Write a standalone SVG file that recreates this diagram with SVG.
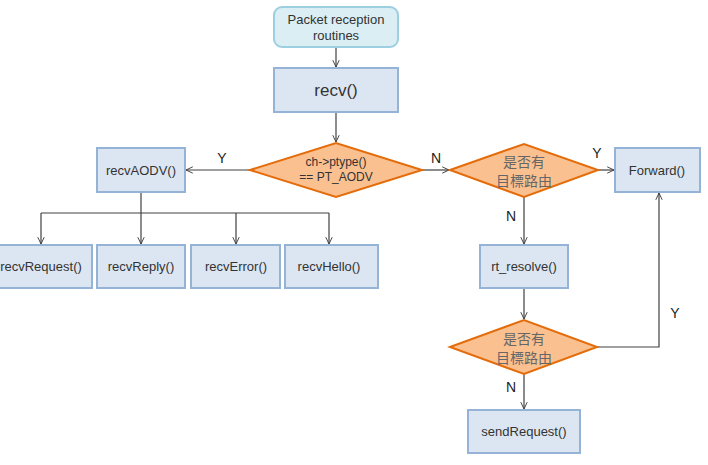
<svg xmlns="http://www.w3.org/2000/svg" width="708" height="465" viewBox="0 0 708 465">
<defs>
<marker id="arr" viewBox="0 0 10 10" refX="9.5" refY="5" markerWidth="8" markerHeight="8" markerUnits="userSpaceOnUse" orient="auto">
<path d="M1,1 L9.5,5 L1,9" fill="none" stroke="#404040" stroke-width="1.2"/>
</marker>
</defs>
<style>
.box{fill:#dce6f2;stroke:#95b3d7;stroke-width:2}
.start{fill:#daeef3;stroke:#9ccfe0;stroke-width:2}
.dia{fill:#fac090;stroke:#e46c0a;stroke-width:2}
.t{font-family:"Liberation Sans","Noto Sans CJK TC",sans-serif;font-size:13px;fill:#333;text-anchor:middle}
.cjk{font-family:"Noto Sans CJK TC",sans-serif;font-size:14px;fill:#666;text-anchor:middle}
.lbl{font-family:"Liberation Sans",sans-serif;font-size:14px;fill:#222;text-anchor:middle}
.c{fill:none;stroke:#404040;stroke-width:1.2}
</style>
<rect width="708" height="465" fill="#fff"/>
<g id="connectors">
<path class="c" d="M336,48 V67" marker-end="url(#arr)"/>
<path class="c" d="M336,112 V142" marker-end="url(#arr)"/>
<path class="c" d="M250,170 H186" marker-end="url(#arr)"/>
<path class="c" d="M141,192 V213"/>
<path class="c" d="M41,213 H329"/>
<path class="c" d="M41,213 V244" marker-end="url(#arr)"/>
<path class="c" d="M141,213 V244" marker-end="url(#arr)"/>
<path class="c" d="M236,213 V244" marker-end="url(#arr)"/>
<path class="c" d="M329,213 V244" marker-end="url(#arr)"/>
<path class="c" d="M422,170 H449" marker-end="url(#arr)"/>
<path class="c" d="M598,170 H614" marker-end="url(#arr)"/>
<path class="c" d="M524,197 V244" marker-end="url(#arr)"/>
<path class="c" d="M524,288 V319" marker-end="url(#arr)"/>
<path class="c" d="M597,347 H659 V193" marker-end="url(#arr)"/>
<path class="c" d="M524,374 V409" marker-end="url(#arr)"/>
<text class="lbl" x="222" y="163">Y</text>
<text class="lbl" x="436" y="163">N</text>
<text class="lbl" x="597" y="158">Y</text>
<text class="lbl" x="511" y="221">N</text>
<text class="lbl" x="675" y="318">Y</text>
<text class="lbl" x="511" y="392">N</text>
</g>
<g id="start"><rect class="start" x="274" y="7" width="124" height="40" rx="8"/><text class="t" x="336" y="24">Packet reception</text><text class="t" x="336" y="40">routines</text></g>
<g id="recv"><rect class="box" x="274" y="68" width="124" height="44"/><text class="t" x="336" y="96" style="font-size:17px">recv()</text></g>
<g id="d1"><polygon class="dia" points="250,170 336,143 422,170 336,197"/><text class="t" x="336" y="166" style="font-size:12px">ch-&gt;ptype()</text><text class="t" x="336" y="181" style="font-size:12px">== PT_AODV</text></g>
<g id="recvAODV"><rect class="box" x="97" y="148" width="88" height="44"/><text class="t" x="141" y="175">recvAODV()</text></g>
<g id="recvRequest"><rect class="box" x="-10" y="245" width="102" height="43"/><text class="t" x="41" y="271">recvRequest()</text></g>
<g id="recvReply"><rect class="box" x="97" y="245" width="88" height="43"/><text class="t" x="141" y="271">recvReply()</text></g>
<g id="recvError"><rect class="box" x="191" y="245" width="89" height="43"/><text class="t" x="236" y="271">recvError()</text></g>
<g id="recvHello"><rect class="box" x="285" y="245" width="93" height="43"/><text class="t" x="329" y="271">recvHello()</text></g>
<g id="d2"><polygon class="dia" points="450,170 524,144 598,170 524,197"/><text class="cjk" x="524" y="167">是否有</text><text class="cjk" x="524" y="186">目標路由</text></g>
<g id="forward"><rect class="box" x="615" y="148" width="85" height="44"/><text class="t" x="657" y="175">Forward()</text></g>
<g id="rt_resolve"><rect class="box" x="480" y="245" width="88" height="43"/><text class="t" x="524" y="271">rt_resolve()</text></g>
<g id="d3"><polygon class="dia" points="450,347 524,320 597,347 524,374"/><text class="cjk" x="524" y="344">是否有</text><text class="cjk" x="524" y="363">目標路由</text></g>
<g id="sendRequest"><rect class="box" x="468" y="410" width="112" height="43"/><text class="t" x="524" y="436">sendRequest()</text></g>
</svg>
